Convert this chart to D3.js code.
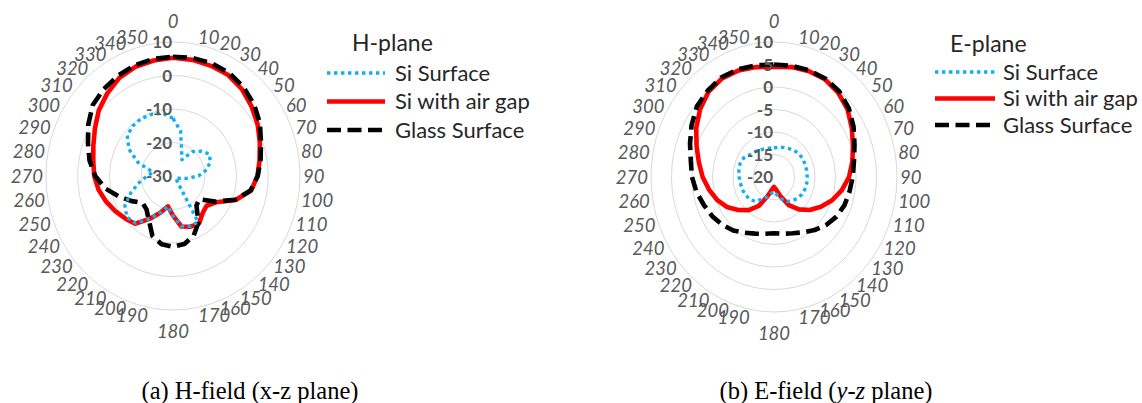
<!DOCTYPE html>
<meta charset="utf-8">
<html>
<head>
<script src="https://cdn.jsdelivr.net/npm/d3@7"></script>
<style>
  body { margin: 0; background: #fff; }
  svg { display: block; }
  .ang { font-family: Lato, "Open Sans", sans-serif; font-style: italic; font-size: 18.5px; fill: #595959; }
  .val { font-family: Lato, "Open Sans", sans-serif; font-weight: bold; font-size: 17px; fill: #595959; }
  .legt { font-family: Lato, "Open Sans", sans-serif; font-size: 23px; fill: #262626; }
  .leg { font-family: Lato, "Open Sans", sans-serif; font-size: 22px; fill: #262626; }
  .cap { font-family: "Liberation Serif", "Times New Roman", serif; font-size: 24.5px; fill: #000; }
</style>
</head>
<body>
<svg id="fig" width="1142" height="403"></svg>
<script>
// category axis (degrees)
var angles = [0,10,20,30,40,50,60,70,80,90,100,110,120,130,140,150,160,170,
              180,190,200,210,220,230,240,250,260,270,280,290,300,310,320,330,340,350];

// H-plane (x-z), dB
var hTicks = [-30, -20, -10, 0, 10];
var hSiSurface = [-12.8,-16.3,-22,-24.4,-20.5,-18.5,-16.8,-17.5,-19.2,-22,-25.8,-28,
                  -29,-28.5,-28,-14.2,-14,-14.8,-18,-20.8,-18.3,-15.2,-11.6,-11,
                  -12.5,-16,-19.3,-21.8,-23.6,-18.3,-14,-11.2,-10.4,-10.1,-10.4,-11];
var hSiAirGap = [5.3,5.2,5.0,4.8,3.8,2.3,0.8,-0.9,-2.3,-3.4,-5.0,-9.0,
                 -14.3,-16.2,-15.5,-13.6,-13.9,-14.7,-18.2,-20.8,-18.3,-15.2,-11.4,-10.3,
                 -9.0,-7.6,-6.2,-5.2,-4.5,-3.3,-1.6,0.5,2.2,3.8,4.7,5.0];
var hGlass = [5.6,5.8,5.8,5.5,4.6,3.3,1.6,-0.5,-2.0,-3.3,-5.2,-9.2,
              -14.7,-19.2,-18.5,-14.0,-11.0,-9.4,-8.9,-9.3,-11.0,-14.8,-17.0,-17.5,
              -15.0,-12.0,-8.4,-5.5,-3.3,-1.5,0.8,3.0,3.9,4.6,5.2,5.5];

// E-plane (y-z), dB
var eTicks = [-20, -15, -10, -5, 0, 5, 10];
var eSiSurface = [-13.5,-13.3,-13.0,-12.7,-12.3,-12.0,-11.9,-11.9,-11.9,-11.9,-11.9,-12.0,
                  -12.2,-12.6,-13.1,-13.7,-14.8,-16.0,-16.8,-16.3,-15.3,-14.4,-12.9,-12.3,
                  -12.0,-11.8,-11.7,-11.5,-11.3,-11.2,-11.5,-12.3,-12.7,-13.1,-13.3,-13.5];
var eSiAirGap = [4.5,4.8,5.0,5.0,4.4,3.4,1.9,0.5,-0.6,-1.7,-3.2,-4.9,
                 -6.8,-8.6,-10.6,-12.8,-15.5,-17.2,-17.8,-17.2,-15.5,-12.6,-10.4,-8.6,
                 -6.7,-5.2,-3.9,-2.6,-1.4,0.1,1.9,3.5,4.8,5.3,5.2,4.8];
var eGlass = [5.0,5.1,5.2,5.2,4.8,3.8,2.4,0.9,-0.2,-0.8,-1.3,-1.7,
              -2.4,-3.4,-4.6,-5.8,-6.7,-7.2,-7.5,-7.2,-6.6,-5.7,-4.5,-3.5,
              -2.6,-1.8,-0.8,0,0.6,1.8,3.2,4.5,5.1,5.6,5.5,5.2];

var seriesNames = ["Si Surface", "Si with air gap", "Glass Surface"];
var styles = {
  "Si Surface":      {stroke: "#0fb0f0", width: 3.4, dash: "3.4 3.6"},
  "Si with air gap": {stroke: "#ff0000", width: 4.6, dash: null},
  "Glass Surface":   {stroke: "#000000", width: 4.6, dash: "14 6.5"}
};
var drawOrder = ["Si with air gap", "Glass Surface", "Si Surface"];

var svg = d3.select("#fig");

function polarChart(cfg) {
  var g = svg.append("g");
  var r = d3.scaleLinear().domain([cfg.ticks[0], cfg.ticks[cfg.ticks.length - 1]]).range([0, 1]);
  var rad = function(a) { return a * Math.PI / 180; };
  var px = function(a, t) { return cfg.cx + t * cfg.rx * Math.sin(rad(a)); };
  var py = function(a, t) { return cfg.cy - t * cfg.ry * Math.cos(rad(a)); };

  // grid rings
  g.selectAll("ellipse").data(cfg.ticks.slice(1)).enter().append("ellipse")
    .attr("cx", cfg.cx).attr("cy", cfg.cy)
    .attr("rx", function(d) { return r(d) * cfg.rx; })
    .attr("ry", function(d) { return r(d) * cfg.ry; })
    .attr("fill", "none").attr("stroke", "#d9d9d9").attr("stroke-width", 1);

  var line = d3.line()
    .x(function(d, i) { return px(angles[i], r(d)); })
    .y(function(d, i) { return py(angles[i], r(d)); })
    .curve(d3.curveLinearClosed);

  drawOrder.forEach(function(name) {
    var st = styles[name];
    g.append("path")
      .attr("d", line(cfg.data[name]))
      .attr("fill", "none")
      .attr("stroke", st.stroke)
      .attr("stroke-width", st.width)
      .attr("stroke-linejoin", "round")
      .attr("stroke-dasharray", st.dash);
  });

  // value axis labels
  g.selectAll("text.val").data(cfg.ticks).enter().append("text")
    .attr("class", "val")
    .attr("x", cfg.cx - 1)
    .attr("y", function(d) { return cfg.cy - r(d) * cfg.ry; })
    .attr("dy", "0.36em")
    .attr("text-anchor", "end")
    .text(function(d) { return d; });

  // category labels
  angles.forEach(function(a) {
    var s = Math.sin(rad(a)), c = Math.cos(rad(a));
    var x0 = px(a, 1), y0 = py(a, 1);
    var t = g.append("text").attr("class", "ang").attr("dy", "0.36em").text(a);
    if (Math.abs(s) < 0.01) {
      t.attr("x", x0).attr("y", y0 - c * 21).attr("text-anchor", "middle");
    } else {
      t.attr("x", x0 + (s > 0 ? 3 : -3)).attr("y", y0 - c * 7)
       .attr("text-anchor", s > 0 ? "start" : "end");
    }
  });

  // legend
  var lg = g.append("g");
  lg.append("text").attr("class", "legt")
    .attr("x", cfg.leg.titleX).attr("y", cfg.leg.titleY).attr("dy", "0.35em").text(cfg.title);
  seriesNames.forEach(function(name, i) {
    var st = styles[name], y = cfg.leg.rows[i];
    lg.append("line")
      .attr("x1", cfg.leg.x1).attr("x2", cfg.leg.x2).attr("y1", y).attr("y2", y)
      .attr("stroke", st.stroke).attr("stroke-width", st.width)
      .attr("stroke-dasharray", st.dash);
    lg.append("text").attr("class", "leg")
      .attr("x", cfg.leg.tx).attr("y", y).attr("dy", "0.35em").text(name);
  });
}

polarChart({
  cx: 173, cy: 176, rx: 127, ry: 134, ticks: hTicks, title: "H-plane",
  data: {"Si Surface": hSiSurface, "Si with air gap": hSiAirGap, "Glass Surface": hGlass},
  leg: {titleX: 352, titleY: 43, x1: 327, x2: 385, tx: 395, rows: [73, 101.5, 130]}
});

polarChart({
  cx: 774, cy: 177, rx: 123, ry: 135, ticks: eTicks, title: "E-plane",
  data: {"Si Surface": eSiSurface, "Si with air gap": eSiAirGap, "Glass Surface": eGlass},
  leg: {titleX: 950, titleY: 44, x1: 935, x2: 995, tx: 1003, rows: [72, 98.5, 125]}
});

// captions
svg.append("text").attr("class", "cap").attr("x", 250).attr("y", 399)
  .attr("text-anchor", "middle").text("(a) H-field (x-z plane)");
var capB = svg.append("text").attr("class", "cap").attr("x", 826).attr("y", 399)
  .attr("text-anchor", "middle");
capB.append("tspan").text("(b) E-field (");
capB.append("tspan").attr("font-style", "italic").text("y-z");
capB.append("tspan").text(" plane)");
</script>
</body>
</html>
